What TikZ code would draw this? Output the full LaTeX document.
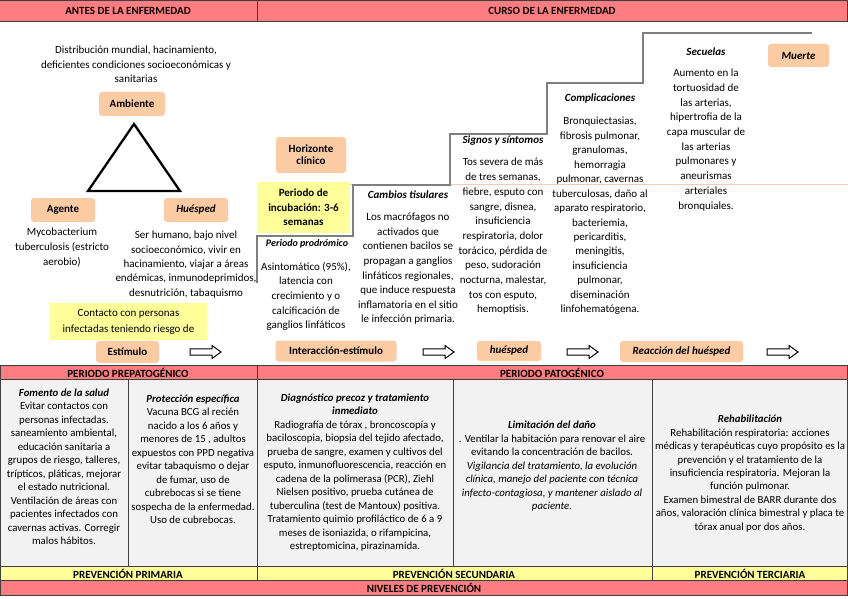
\documentclass[tikz,border=0pt]{standalone}
\usepackage{fontspec}
\setmainfont{Carlito}
\definecolor{rosa}{HTML}{FF7C80}
\definecolor{amar}{HTML}{FFFF99}
\definecolor{dur}{HTML}{FBCBA4}
\definecolor{gris}{HTML}{F2F2F2}
\definecolor{borde}{HTML}{404040}
\definecolor{esc}{HTML}{7F7F7F}
\definecolor{hline}{HTML}{F8CBAD}
\newcommand{\harrow}[2]{\draw[line width=1pt, fill=white] (#1,#2) ++(0,-3.2) -- ++(22,0) -- ++(0,-3.3) -- ++(9,6.5) -- ++(-9,6.5) -- ++(0,-3.3) -- ++(-22,0) -- cycle;}
\begin{document}
\begin{tikzpicture}[x=1pt,y=-1pt,
  peach/.style={fill=dur, rounded corners=3pt, align=center, inner sep=0pt, font=\bfseries\fontsize{11}{12}\selectfont},
  yel/.style={fill=amar, align=center, inner sep=0pt, font=\bfseries\fontsize{11}{14.5}\selectfont},
  txt/.style={align=center, inner sep=0pt, font=\fontsize{11}{14.6}\selectfont},
  ttl/.style={align=center, inner sep=0pt, font=\bfseries\itshape\fontsize{11}{13}\selectfont},
  cell/.style={align=center, inner sep=0pt, font=\fontsize{10.8}{13.5}\selectfont},
  hdr/.style={inner sep=0pt, font=\bfseries\fontsize{11}{12}\selectfont},
  stair/.style={draw=esc, line width=1.3pt},
  bord/.style={draw=borde, line width=0.8pt}]
\useasboundingbox (0,0) rectangle (848,599);
\fill[white] (0,0) rectangle (848,599);

% top header
\fill[rosa] (0,0) rectangle (848,21);
\draw[bord] (0,0.4) -- (848,0.4);
\draw[bord] (0,21) -- (848,21);
\draw[bord] (257,0) -- (257,21);
\draw[bord] (847.5,0) -- (847.5,21);
\node[hdr] (h1) at (128,11) {ANTES DE LA ENFERMEDAD};
\node[hdr] (h2) at (552,11) {CURSO DE LA ENFERMEDAD};

% left: triad
\node[txt] (amb) at (136,64.5) {Distribución mundial, hacinamiento,\\deficientes condiciones socioeconómicas y\\sanitarias};
\node[peach, minimum width=66pt, minimum height=24pt] (ambiente) at (132,104) {Ambiente};
\coordinate (tA) at (134,124);
\coordinate (tB) at (88,191);
\coordinate (tC) at (180,191);
\draw[line width=2.3pt, line join=miter] (tA) -- (tB) -- (tC) -- cycle;
\node[peach, minimum width=64pt, minimum height=24pt] (agente) at (63,210) {Agente};
\node[peach, minimum width=64pt, minimum height=24pt, font=\bfseries\itshape\fontsize{11}{12}\selectfont] (huesped) at (196,210) {Huésped};
\node[txt] (myco) at (62,247.5) {Mycobacterium\\tuberculosis (estricto\\aerobio)};
\node[txt, font=\fontsize{11}{14.3}\selectfont] (ser) at (186,264.5) {Ser humano, bajo nivel\\socioeconómico, vivir en\\hacinamiento, viajar a áreas\\endémicas, inmunodeprimidos,\\desnutrición, tabaquismo};
\node[yel, font=\fontsize{11}{16}\selectfont, minimum width=157pt, minimum height=37pt] (contacto) at (128.5,321.5) {Contacto con personas\\infectadas teniendo riesgo de};

% horizon line
\draw[hline, line width=0.6pt] (257,184) -- (848,184);

% staircase
\coordinate (s0) at (257,283);
\coordinate (s1) at (257,236);
\coordinate (s2) at (353,236);
\coordinate (s3) at (353,185);
\coordinate (s4) at (450,185);
\coordinate (s5) at (450,134);
\coordinate (s6) at (547,134);
\coordinate (s7) at (547,83);
\coordinate (s8) at (643,83);
\coordinate (s9) at (643,33);
\coordinate (s10) at (812,33);
\draw[stair] (s0) -- (s1) -- (s2) -- (s3) -- (s4) -- (s5) -- (s6) -- (s7) -- (s8) -- (s9) -- (s10);

\node[peach, minimum width=70pt, minimum height=36pt] (horiz) at (311,155) {Horizonte\\clínico};
\node[yel, minimum width=93pt, minimum height=51pt] (incub) at (303.5,207.5) {Periodo de\\incubación: 3-6\\semanas};

\node[ttl, font=\bfseries\itshape\fontsize{10}{12}\selectfont] (prod) at (307,244) {Periodo prodrómico};
\node[txt, font=\fontsize{11}{14.7}\selectfont] (asin) at (306,296.5) {Asintomático (95\%),\\latencia con\\crecimiento y o\\calcificación de\\ganglios linfáticos};

\node[ttl] (camb) at (408,195) {Cambios tisulares};
\node[txt] (macro) at (408,269) {Los macrófagos no\\activados que\\contienen bacilos se\\propagan a ganglios\\linfáticos regionales,\\que induce respuesta\\inflamatoria en el sitio\\le infección primaria.};

\node[ttl] (signos) at (503,141) {Signos y síntomos};
\node[txt, font=\fontsize{11}{14.7}\selectfont] (tos) at (503,236.5) {Tos severa de más\\de tres semanas,\\fiebre, esputo con\\sangre, disnea,\\insuficiencia\\respiratoria, dolor\\torácico, pérdida de\\peso, sudoración\\nocturna, malestar,\\tos con esputo,\\hemoptisis.};

\node[ttl] (compl) at (600,99) {Complicaciones};
\node[txt, font=\fontsize{11}{14.46}\selectfont] (bronq) at (600,216) {Bronquiectasias,\\fibrosis pulmonar,\\granulomas,\\hemorragia\\pulmonar, cavernas\\tuberculosas, daño al\\aparato respiratorio,\\bacteriemia,\\pericarditis,\\meningitis,\\insuficiencia\\pulmonar,\\diseminación\\linfohematógena.};

\node[ttl] (secu) at (706,52) {Secuelas};
\node[txt, font=\fontsize{11}{14.7}\selectfont] (aum) at (706,140) {Aumento en la\\tortuosidad de\\las arterias,\\hipertrofia de la\\capa muscular de\\las arterias\\pulmonares y\\aneurismas\\arteriales\\bronquiales.};

\node[peach, minimum width=61pt, minimum height=23pt, font=\bfseries\itshape\fontsize{11}{12}\selectfont] (muerte) at (798.5,55.5) {Muerte};

% bottom row of stages
\node[peach, minimum width=63pt, minimum height=22pt] (estim) at (127.5,352) {Estímulo};
\node[peach, minimum width=121pt, minimum height=21pt] (inter) at (336,351) {Interacción-estímulo};
\node[peach, minimum width=64pt, minimum height=20pt, font=\bfseries\itshape\fontsize{11}{12}\selectfont] (hues2) at (509,351) {huésped};
\node[peach, minimum width=123pt, minimum height=21pt, font=\bfseries\itshape\fontsize{11}{12}\selectfont] (reac) at (681.5,351.5) {Reacción del huésped};
\harrow{190}{352}
\harrow{423}{352}
\harrow{567}{352}
\harrow{767}{352}

% table
\fill[rosa] (0,365) rectangle (848,379);
\fill[gris] (0,379) rectangle (848,566);
\fill[amar] (0,566) rectangle (848,580);
\fill[rosa] (0,580) rectangle (848,595);
\foreach \yy in {365,379,566,580,595} {\draw[bord] (0,\yy) -- (848,\yy);}
\draw[bord] (0.4,365) -- (0.4,595);
\draw[bord] (847.5,365) -- (847.5,595);
\draw[bord] (257,365) -- (257,580);
\draw[bord] (128,379) -- (128,566);
\draw[bord] (453,379) -- (453,566);
\draw[bord] (652,379) -- (652,580);

\node[hdr] (pp) at (128,372.5) {PERIODO PREPATOGÉNICO};
\node[hdr] (pg) at (552,372.5) {PERIODO PATOGÉNICO};
\node[hdr] (prim) at (128,573.5) {PREVENCIÓN PRIMARIA};
\node[hdr] (sec) at (454,573.5) {PREVENCIÓN SECUNDARIA};
\node[hdr] (ter) at (750,573.5) {PREVENCIÓN TERCIARIA};
\node[hdr] (niv) at (424,588) {NIVELES DE PREVENCIÓN};

\node[cell] (c1) at (64,466.5) {{\bfseries\itshape Fomento de la salud}\\Evitar contactos con\\personas infectadas.\\saneamiento ambiental,\\educación sanitaria a\\grupos de riesgo, talleres,\\trípticos, pláticas, mejorar\\el estado nutricional.\\Ventilación de áreas con\\pacientes infectados con\\cavernas activas. Corregir\\malos hábitos.};
\node[cell] (c2) at (193,459) {{\bfseries\itshape Protección específica}\\Vacuna BCG al recién\\nacido a los 6 años y\\menores de 15 , adultos\\expuestos con PPD negativa\\evitar tabaquismo o dejar\\de fumar, uso de\\cubrebocas si se tiene\\sospecha de la enfermedad.\\Uso de cubrebocas.};
\node[cell] (c3) at (355,472.5) {{\bfseries\itshape Diagnóstico precoz y tratamiento}\\{\bfseries\itshape inmediato}\\Radiografía de tórax , broncoscopía y\\baciloscopia, biopsia del tejido afectado,\\prueba de sangre, examen y cultivos del\\esputo, inmunofluorescencia, reacción en\\cadena de la polimerasa (PCR), Ziehl\\Nielsen positivo,  prueba cutánea de\\tuberculina (test de Mantoux) positiva.\\Tratamiento quimio profiláctico de 6 a 9\\meses de isoniazida, o rifampicina,\\estreptomicina, pirazinamida.};
\node[cell] (c4) at (552,466.5) {{\bfseries\itshape Limitación del daño}\\. Ventilar la habitación para renovar el aire\\evitando la concentración de bacilos.\\{\itshape Vigilancia del tratamiento, la evolución}\\{\itshape clínica, manejo del paciente con técnica}\\{\itshape infecto-contagiosa, y mantener aislado al}\\{\itshape paciente.}};
\node[cell, font=\fontsize{10.8}{13.4}\selectfont] (c5) at (750,473.5) {{\bfseries\itshape Rehabilitación}\\Rehabilitación respiratoria: acciones\\médicas y terapéuticas cuyo propósito es la\\prevención y el tratamiento de la\\insuficiencia respiratoria. Mejoran la\\función pulmonar.\\Examen bimestral de BARR durante dos\\años, valoración clínica bimestral y placa te\\tórax anual por dos años.};
\end{tikzpicture}
\end{document}
